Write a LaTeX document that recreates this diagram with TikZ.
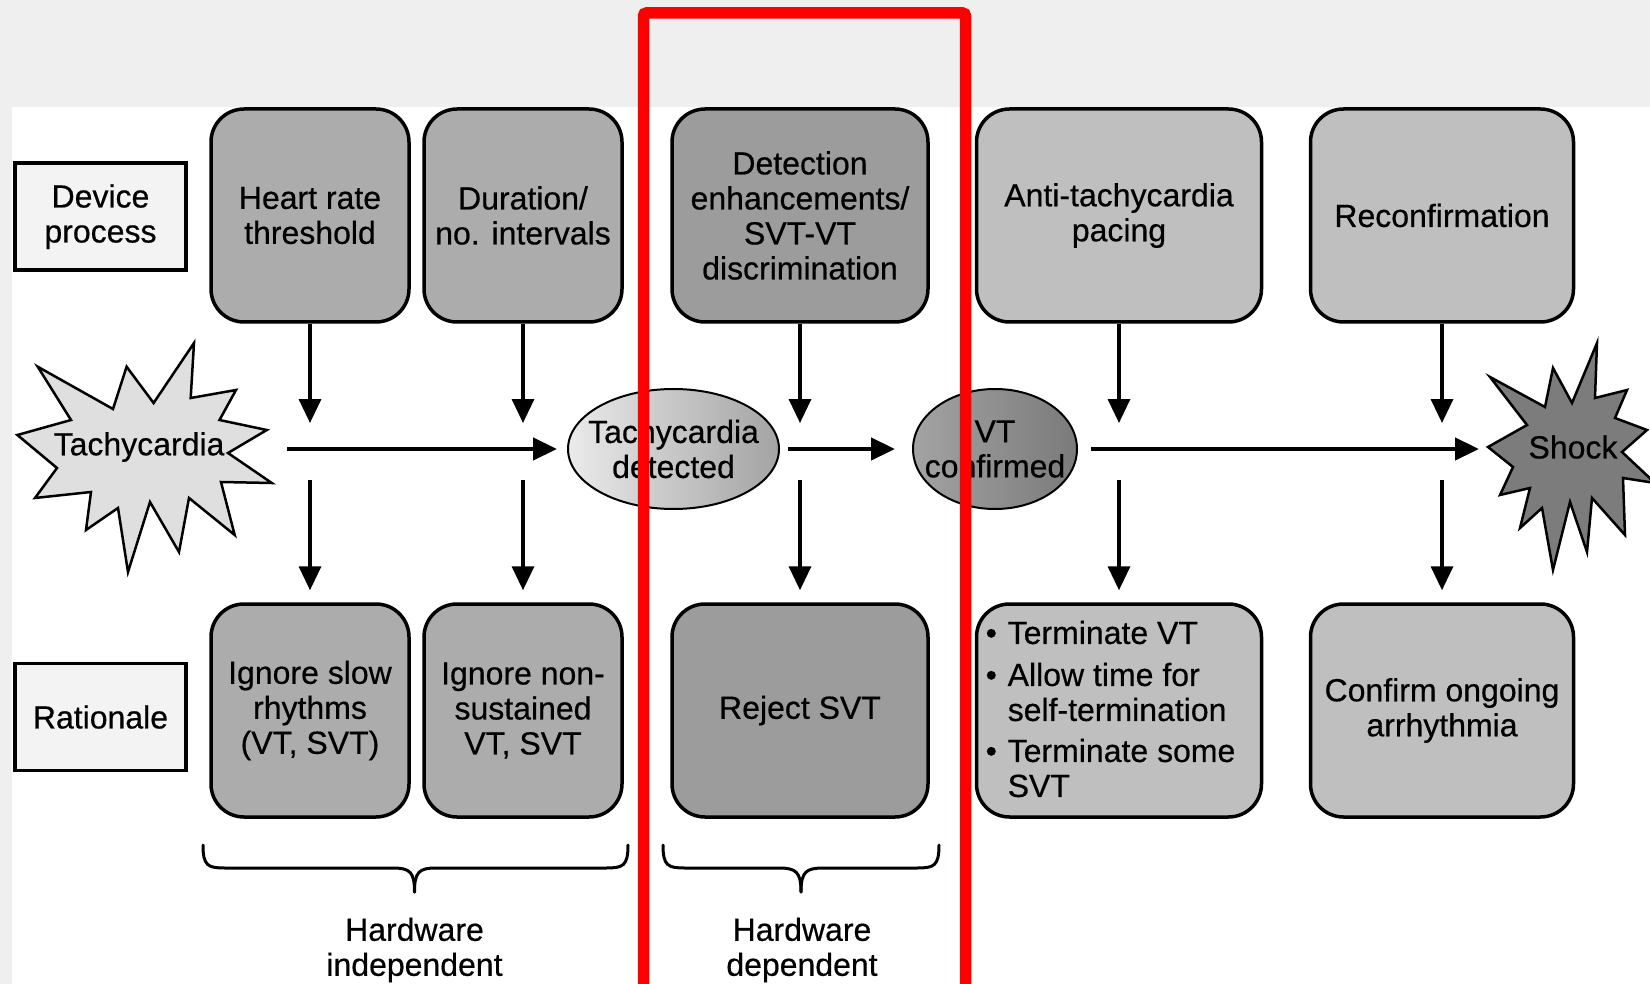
\documentclass[tikz,border=0pt]{standalone}
\usepackage{fontspec}
\setmainfont{Liberation Sans}[FakeBold=0.5]
\usetikzlibrary{arrows.meta,shapes.geometric}

\definecolor{bggray}{HTML}{EFEFEF}
\definecolor{labelfill}{HTML}{F3F3F3}
\definecolor{midgray}{HTML}{ACACAC}
\definecolor{deepgray}{HTML}{9C9C9C}
\definecolor{palegray}{HTML}{BFBFBF}
\definecolor{starlight}{HTML}{DFDFDF}
\definecolor{stardark}{HTML}{7C7C7C}

\begin{document}
\begin{tikzpicture}[x=1pt,y=-1pt,
  txt/.style={font=\fontsize{32}{35}\selectfont, align=center, inner sep=0pt},
  stepbox/.style={txt, draw=black, line width=3.5pt, rounded corners=33pt,
    minimum height=213pt},
  tagbox/.style={txt, draw=black, line width=3.5pt, fill=labelfill,
    minimum width=171pt, minimum height=107pt},
  oval/.style={ellipse, draw=black, line width=2pt, inner sep=0pt,
    minimum height=120pt},
  varr/.style={line width=3.5pt, -{Triangle[length=24pt,width=22pt]}},
  harr/.style={line width=4.5pt, -{Triangle[length=24pt,width=22pt]}},
  brace/.style={line width=3pt, line cap=round},
  star/.style={draw=black, line width=2.5pt, line join=miter},
]
\useasboundingbox (0,0) rectangle (1650,984);

% page background
\fill[bggray] (0,0) rectangle (1650,984);
\fill[white] (11.5,107) rectangle (1650,984);

% row labels
\node[tagbox] (dev) at (100.5,216.7) {Device\\process};
\node[tagbox] (rat) at (100.5,717) {Rationale};

% device process row
\node[stepbox, fill=midgray, minimum width=198pt] (hr) at (310,215.5) {Heart rate\\threshold};
\node[stepbox, fill=midgray, minimum width=198pt] (dur) at (523,215.5) {Duration/\\no. intervals};
\node[stepbox, fill=deepgray, minimum width=256pt] (disc) at (800,215.5) {Detection\\enhancements/\\SVT-VT\\discrimination};
\node[stepbox, fill=palegray, minimum width=285pt] (atp) at (1119,215.5) {Anti-tachycardia\\pacing};
\node[stepbox, fill=palegray, minimum width=263pt] (rec) at (1442,215.5) {Reconfirmation};

% rationale row
\node[stepbox, fill=midgray, minimum width=198pt] (ign1) at (310,710.5) {Ignore slow\\rhythms\\(VT, SVT)};
\node[stepbox, fill=midgray, minimum width=198pt] (ign2) at (523,710.5) {Ignore non-\\sustained\\VT, SVT};
\node[stepbox, fill=deepgray, minimum width=256pt] (rej) at (800,710.5) {Reject SVT};
\node[stepbox, fill=palegray, minimum width=285pt] (term) at (1119,710.5) {};
\node[txt, align=left, anchor=west] (termT) at (985.5,709)
  {\makebox[22pt][l]{\textbullet}Terminate VT\\[7pt]%
   \makebox[22pt][l]{\textbullet}Allow time for\\%
   \hspace*{22pt}self-termination\\[6pt]%
   \makebox[22pt][l]{\textbullet}Terminate some\\%
   \hspace*{22pt}SVT};
\node[stepbox, fill=palegray, minimum width=263pt] (conf) at (1442,710.5) {Confirm ongoing\\arrhythmia};

% start burst
\filldraw[star, fill=starlight]
  (37.7,366.7) -- (113,409) -- (126.6,366.7) -- (153.6,403) -- (194,343)
  -- (190.7,398) -- (236,390) -- (219.5,420) -- (266.8,430) -- (228,453)
  -- (271.8,483) -- (221,482) -- (234.7,535) -- (189,498) -- (179,552)
  -- (150,502) -- (128,572) -- (118,508) -- (86,530) -- (91,492)
  -- (35,498) -- (57,468) -- (17.4,435) -- (71,420) -- cycle;
\node[txt] (tachy) at (139,447) {Tachycardia};

% end burst
\filldraw[star, fill=stardark]
  (1490,377) -- (1545,407) -- (1553,368) -- (1572,403) -- (1597,343)
  -- (1595,398) -- (1627,390) -- (1615,418) -- (1647,430) -- (1622,452)
  -- (1655,483) -- (1623,478) -- (1625,535) -- (1592,498) -- (1587,552)
  -- (1570,502) -- (1553,570) -- (1542,508) -- (1520,528) -- (1530,488)
  -- (1500,495) -- (1513,467) -- (1488,447) -- (1527,425) -- cycle;
\node[txt] (shock) at (1573,447) {Shock};

% decision ovals
\node[oval, minimum width=211pt, left color=black!8, right color=black!36] (det) at (673.5,449) {};
\node[txt] (detT) at (det.center) {Tachycardia\\detected};
\node[oval, minimum width=164pt, left color=black!36, right color=black!52] (vt) at (995,449) {};
\node[txt] (vtT) at (vt.center) {VT\\confirmed};

% main flow
\coordinate (tachyOut) at (287,449);
\coordinate (shockIn) at (1479,449);
\draw[harr, shorten >=10pt] (tachyOut) -- (det);
\draw[harr, shorten <=8pt, shorten >=17pt] (det) -- (vt);
\draw[harr, shorten <=13pt] (vt) -- (shockIn);

% process steps feeding the flow
\foreach \b/\x in {hr/310, dur/523, disc/800, atp/1119, rec/1442}{
  \coordinate (\b Dn) at (\x,423);
  \draw[varr] (\b) -- (\b Dn);
}
% flow leading to the rationale
\foreach \b/\x in {ign1/310, ign2/523, rej/800, term/1119, conf/1442}{
  \coordinate (\b Up) at (\x,480);
  \draw[varr, shorten >=12pt] (\b Up) -- (\b);
}

% groupings
\draw[brace] (203,845) .. controls (203,866) and (208,868) .. (225,868) -- (393,868)
  .. controls (410,868) and (414.5,872) .. (414.5,892);
\draw[brace] (628,845) .. controls (628,866) and (623,868) .. (606,868) -- (436,868)
  .. controls (419,868) and (414.5,872) .. (414.5,892);
\draw[brace] (663,845) .. controls (663,866) and (668,868) .. (685,868) -- (779,868)
  .. controls (796,868) and (801,872) .. (801,892);
\draw[brace] (939,845) .. controls (939,866) and (934,868) .. (917,868) -- (823,868)
  .. controls (806,868) and (801,872) .. (801,892);
\node[txt] (hwi) at (414.5,950) {Hardware\\independent};
\node[txt] (hwd) at (802,950) {Hardware\\dependent};

% highlight frame
\draw[red, line width=11.5pt, rounded corners=3pt]
  (643.5,1010) -- (643.5,13) -- (965.5,13) -- (965.5,1010);
\end{tikzpicture}
\end{document}
